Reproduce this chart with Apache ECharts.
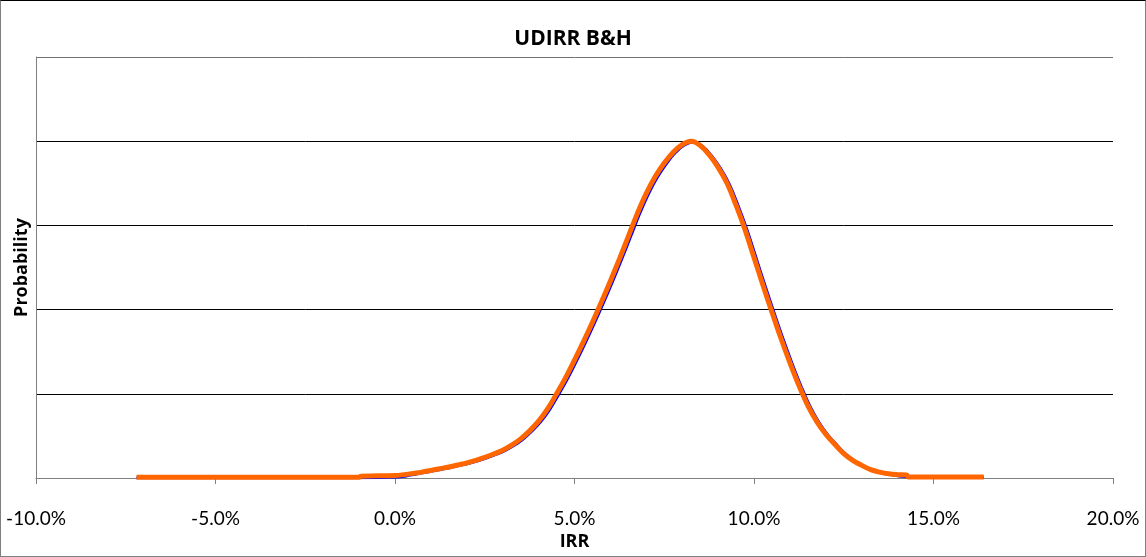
<!DOCTYPE html>
<html>
<head>
<meta charset="utf-8">
<script src="https://cdn.jsdelivr.net/npm/echarts@6/dist/echarts.min.js"></script>
<style>
  html, body { margin: 0; padding: 0; background: #fff; }
  #chart {
    width: 1144px;
    height: 555px;
    border: 1px solid #7f7f7f;
    border-top-color: #000;
  }
</style>
</head>
<body>
<div id="chart"></div>
<script>
// IRR (%) and probability density
const orangeIrr = [-7.2, -4.0, -1.0, -0.95,
  0.0, 0.25, 0.5, 0.75, 1.0, 1.25, 1.5, 1.75, 2.0, 2.25, 2.5, 2.75, 3.0, 3.25, 3.5, 3.75,
  4.0, 4.25, 4.5, 4.75, 5.0, 5.25, 5.5, 5.75, 6.0, 6.25, 6.5, 6.75, 7.0, 7.25, 7.5, 7.75,
  8.0, 8.25, 8.5, 8.75, 9.0, 9.25, 9.5, 9.75, 10.0, 10.25, 10.5, 10.75, 11.0, 11.25, 11.5, 11.75,
  12.0, 12.25, 12.5, 12.75, 13.0, 13.25, 13.5, 13.75, 14.0, 14.25, 14.3, 16.4]
const orangeProb = [0.008, 0.008, 0.010, 0.022,
  0.03, 0.04, 0.055, 0.07, 0.09, 0.11, 0.13, 0.155, 0.18, 0.21, 0.245, 0.285, 0.33, 0.39, 0.465, 0.56,
  0.675, 0.82, 1.0, 1.19, 1.40, 1.62, 1.85, 2.09, 2.34, 2.60, 2.87, 3.14, 3.38, 3.58, 3.74, 3.87,
  3.96, 4.0, 3.95, 3.84, 3.69, 3.50, 3.24, 2.95, 2.62, 2.29, 1.97, 1.66, 1.37, 1.10, 0.86, 0.67,
  0.52, 0.40, 0.29, 0.21, 0.15, 0.10, 0.07, 0.05, 0.04, 0.035, 0.012, 0.012]

const blueIrr = [-7.2, -1.0,
  0.06, 0.31, 0.56, 0.81, 1.06, 1.31, 1.56, 1.81, 2.06, 2.31, 2.56, 2.81, 3.06, 3.31, 3.56, 3.81,
  4.06, 4.31, 4.56, 4.81, 5.06, 5.31, 5.56, 5.81, 6.06, 6.31, 6.56, 6.81, 7.06, 7.31, 7.56, 7.81,
  8.06, 8.31, 8.56, 8.81, 9.06, 9.31, 9.56, 9.81, 10.06, 10.31, 10.56, 10.81, 11.06, 11.31, 11.56, 11.81,
  12.06, 12.31, 12.56, 12.81, 13.06, 13.31, 13.56, 13.81, 14.06, 14.31, 16.4]
const blueProb = [0.003, 0.004,
  0.012, 0.025, 0.045, 0.065, 0.085, 0.105, 0.125, 0.15, 0.175, 0.205, 0.24, 0.28, 0.325, 0.385, 0.46, 0.555,
  0.67, 0.815, 0.995, 1.185, 1.395, 1.615, 1.845, 2.085, 2.335, 2.595, 2.865, 3.135, 3.375, 3.575, 3.735, 3.865,
  3.955, 3.99, 3.94, 3.83, 3.68, 3.49, 3.23, 2.94, 2.61, 2.28, 1.96, 1.65, 1.36, 1.09, 0.85, 0.66,
  0.51, 0.39, 0.28, 0.20, 0.14, 0.09, 0.06, 0.04, 0.025, 0.012, 0.006]

const xTicks = { min: -10, max: 20, step: 5 }

const font = 'Lato, "Open Sans", sans-serif'
const boldFont = '"Open Sans", "Noto Sans", sans-serif'

function pairs(xs, ys) {
  return xs.map((x, i) => [x, ys[i]])
}

const chart = echarts.init(document.getElementById('chart'), null, { renderer: 'canvas' })

chart.setOption({
  animation: false,
  title: {
    text: 'UDIRR B&H',
    left: 'center',
    top: 23,
    textStyle: { fontFamily: boldFont, fontWeight: 'bold', fontSize: 21, color: '#000' }
  },
  grid: {
    left: 35,
    right: 32,
    top: 56,
    bottom: 78,
    outerBoundsMode: 'none'
  },
  xAxis: {
    type: 'value',
    min: xTicks.min,
    max: xTicks.max,
    interval: xTicks.step,
    name: 'IRR',
    nameLocation: 'middle',
    nameGap: 51,
    nameTextStyle: { fontFamily: boldFont, fontWeight: 'bold', fontSize: 18, color: '#000' },
    axisLine: { lineStyle: { color: '#808080', width: 1 } },
    axisTick: { show: true, length: 6, lineStyle: { color: '#808080' } },
    axisLabel: {
      fontFamily: font,
      fontSize: 19,
      color: '#000',
      margin: 31,
      formatter: v => v.toFixed(1) + '%'
    },
    splitLine: { show: false }
  },
  yAxis: {
    type: 'value',
    min: 0,
    max: 5,
    interval: 1,
    name: 'Probability',
    nameLocation: 'middle',
    nameGap: 5,
    nameRotate: 90,
    nameTextStyle: { fontFamily: boldFont, fontWeight: 'bold', fontSize: 18, color: '#000' },
    axisLine: { show: true, onZero: false, lineStyle: { color: '#808080' } },
    axisTick: { show: false },
    axisLabel: { show: false },
    splitLine: {
      show: true,
      lineStyle: { color: ['#000', '#000', '#000', '#000', '#000', '#707070'], width: 1 }
    }
  },
  series: [
    {
      name: 'fit',
      type: 'line',
      data: pairs(blueIrr, blueProb),
      smooth: 0.4,
      showSymbol: false,
      lineStyle: { color: '#0000ff', width: 3 }
    },
    {
      name: 'sim',
      type: 'line',
      data: pairs(orangeIrr, orangeProb),
      smooth: 0.4,
      showSymbol: false,
      lineStyle: { color: '#ff6600', width: 5 }
    }
  ]
})
</script>
</body>
</html>
